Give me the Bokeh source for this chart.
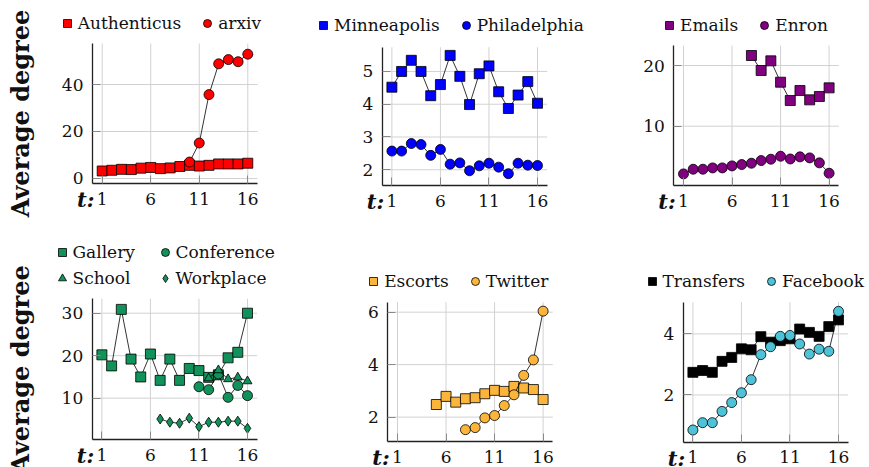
from bokeh.plotting import figure
from bokeh.layouts import column, row
from bokeh.models import Range1d, FixedTicker, Legend, LegendItem, Label
from bokeh.embed import file_html
from bokeh.resources import INLINE

# time steps
t = list(range(1, 17))

# top row
authenticus = [3.2, 3.5, 3.9, 3.8, 4.4, 4.7, 4.2, 4.5, 5.1, 5.6, 5.3, 5.6, 6.2, 6.2, 6.2, 6.5]
arxiv_t = [10, 11, 12, 13, 14, 15, 16]
arxiv = [7.0, 15.1, 35.7, 48.8, 50.6, 49.7, 52.9]

minneapolis = [4.52, 5.0, 5.34, 5.0, 4.26, 4.6, 5.49, 4.85, 3.99, 4.93, 5.17, 4.38, 3.87, 4.28, 4.69, 4.03]
philadelphia = [2.57, 2.57, 2.8, 2.77, 2.44, 2.62, 2.17, 2.21, 1.97, 2.12, 2.2, 2.08, 1.88, 2.2, 2.14, 2.13]

emails_t = [8, 9, 10, 11, 12, 13, 14, 15, 16]
emails = [21.65, 19.18, 20.77, 17.25, 14.23, 15.88, 14.34, 14.9, 16.32]
enron = [2.14, 2.91, 2.91, 3.13, 3.13, 3.46, 3.68, 3.9, 4.34, 4.56, 5.05, 4.6, 4.95, 4.78, 3.96, 2.25]

# bottom row
gallery = [20.2, 17.6, 30.9, 19.2, 15.0, 20.4, 14.2, 19.2, 14.2, 17.0, 16.5, 14.9, 15.5, 19.5, 20.8, 30.0]
conference_t = [11, 12, 13, 14, 15, 16]
conference = [12.7, 12.0, 15.7, 10.2, 13.0, 10.6]
school_t = [12, 13, 14, 15, 16]
school = [14.7, 16.6, 14.5, 14.9, 14.0]
workplace_t = [7, 8, 9, 10, 11, 12, 13, 14, 15, 16]
workplace = [5.1, 4.35, 4.1, 5.3, 3.3, 4.35, 4.35, 4.6, 4.6, 2.9]

escorts_t = [5, 6, 7, 8, 9, 10, 11, 12, 13, 14, 15, 16]
escorts = [2.48, 2.79, 2.57, 2.70, 2.74, 2.89, 3.02, 2.98, 3.17, 3.11, 3.05, 2.67]
twitter_t = [8, 9, 10, 11, 12, 13, 14, 15, 16]
twitter = [1.52, 1.6, 1.97, 2.06, 2.44, 2.85, 3.59, 4.18, 6.04]

transfers = [2.74, 2.8, 2.74, 3.1, 3.23, 3.51, 3.48, 3.91, 3.73, 3.78, 3.84, 4.16, 4.05, 3.92, 4.24, 4.46]
facebook = [0.85, 1.09, 1.09, 1.46, 1.75, 2.07, 2.5, 3.32, 3.58, 3.92, 3.95, 3.67, 3.34, 3.5, 3.43, 4.74]

x_ticks = [1, 6, 11, 16]
X_LO, X_HI = 0, 17

RED = "#ff0000"
BLUE = "#0000ff"
PURPLE = "#800080"
GREEN = "#11925a"
ORANGE = "#fbb53a"
CYAN = "#4ec3d8"
BLACK = "#000000"

SERIF = "DejaVu Serif"


def panel(cell, box, ylim, yticks, ylabel=None):
    """cell: (x, y, w, h) of the figure on the page; box: (left, right, top, bottom)
    page pixels of the axes box; ylim: values at the bottom/top of that box."""
    cx, cy, W, H = cell
    left, right, top, bottom = box
    ylo, yhi = ylim
    kx = (right - left) / (X_HI - X_LO)
    ky = (bottom - top) / (yhi - ylo)
    xs = X_LO - (left - cx) / kx
    ye = yhi + (top - cy) / ky
    p = figure(frame_width=W, frame_height=H,
               x_range=Range1d(xs, xs + W / kx), y_range=Range1d(ye - H / ky, ye),
               output_backend="svg", toolbar_location=None, min_border=0)
    p.outline_line_color = None
    p.grid.visible = False
    p.xaxis.ticker = FixedTicker(ticks=x_ticks)
    p.yaxis.ticker = FixedTicker(ticks=yticks)
    p.xaxis.fixed_location = ylo
    p.yaxis.fixed_location = X_LO
    p.xaxis.bounds = (X_LO, X_HI)
    p.yaxis.bounds = (ylo, yhi)
    for ax in (p.xaxis[0], p.yaxis[0]):
        ax.axis_line_color = "#222222"
        ax.axis_line_width = 1.3
        ax.major_tick_in = 8
        ax.major_tick_out = 0
        ax.major_tick_line_color = "#8a8a8a"
        ax.minor_tick_line_color = None
        ax.major_label_text_font = SERIF
        ax.major_label_text_font_size = "17px"
        ax.major_label_text_color = "#111111"
    p.xaxis.major_label_standoff = 9
    p.yaxis.major_label_standoff = 9
    if ylabel:
        p.yaxis.axis_label = ylabel
        p.yaxis.axis_label_text_font = SERIF
        p.yaxis.axis_label_text_font_style = "bold"
        p.yaxis.axis_label_text_font_size = "24px"
        p.yaxis.axis_label_text_color = "#111111"
        p.yaxis.axis_label_standoff = 24
    # light grid inside the axes box
    p.segment(x0=x_ticks, y0=[ylo] * len(x_ticks), x1=x_ticks, y1=[yhi] * len(x_ticks),
              line_color="#d2d2d2", line_width=1)
    p.segment(x0=[X_LO] * len(yticks), y0=yticks, x1=[X_HI] * len(yticks), y1=yticks,
              line_color="#d2d2d2", line_width=1)
    # bold italic "t:" in front of the time-step labels
    p.add_layout(Label(x=X_LO + 2 / kx, y=ylo - 16 / ky, text="t:",
                       text_align="right", text_baseline="middle",
                       text_font=SERIF, text_font_style="bold italic",
                       text_font_size="21px", text_color="#111111"))
    p._cell = cell
    return p


def series(p, xs, ys, marker, color, size):
    p.line(xs, ys, line_color="#000000", line_width=0.8)
    return p.scatter(xs, ys, marker=marker, size=size, fill_color=color,
                     line_color="#000000", line_width=0.8)


def legend(p, entries, left, bottom, label_width=None):
    cx, cy, W, H = p._cell
    kw = {}
    if label_width:
        kw["label_width"] = label_width
    leg = Legend(items=[LegendItem(label=n, renderers=[r]) for n, r in entries],
                 orientation="horizontal", location=(left - cx, H - (bottom - cy)),
                 padding=0, margin=0, spacing=16, label_standoff=1,
                 glyph_width=20, glyph_height=20, label_height=20,
                 background_fill_alpha=0, border_line_alpha=0,
                 label_text_font=SERIF, label_text_font_size="17px",
                 label_text_color="#111111", **kw)
    p.add_layout(leg, "center")


# Authenticus / arxiv
p1 = panel((0, 0, 290, 233), (92, 257, 43, 183), (-2.13, 57.45), [0, 20, 40], "Average degree")
r_a = series(p1, t, authenticus, "square", RED, 10)
r_b = series(p1, arxiv_t, arxiv, "circle", RED, 10)
legend(p1, [("Authenticus", r_a), ("arxiv", r_b)], 56.7, 33)

# Minneapolis / Philadelphia
p2 = panel((290, 0, 310, 233), (381.7, 546.7, 46.7, 185), (1.52, 5.74), [2, 3, 4, 5])
r_a = series(p2, t, minneapolis, "square", BLUE, 10)
r_b = series(p2, t, philadelphia, "circle", BLUE, 10)
legend(p2, [("Minneapolis", r_a), ("Philadelphia", r_b)], 313, 35)

# Emails / Enron
p3 = panel((600, 0, 269, 233), (673.3, 838.3, 45, 185), (0.23, 23.3), [10, 20])
r_a = series(p3, emails_t, emails, "square", PURPLE, 10)
r_b = series(p3, t, enron, "circle", PURPLE, 10)
legend(p3, [("Emails", r_a), ("Enron", r_b)], 659, 35)

# Gallery / Conference / School / Workplace
p4 = panel((0, 233, 290, 234), (91.7, 256.7, 298.3, 439.3), (0.21, 33.39), [10, 20, 30], "Average degree")
r_g = series(p4, t, gallery, "square", GREEN, 10)
r_c = series(p4, conference_t, conference, "circle", GREEN, 10)
r_s = series(p4, school_t, school, "triangle", GREEN, 9)
r_w = series(p4, workplace_t, workplace, "diamond", GREEN, 10)
legend(p4, [("Gallery", r_g), ("Conference", r_c)], 51.5, 261.5, label_width=66)
legend(p4, [("School", r_s), ("Workplace", r_w)], 51.5, 288, label_width=66)

# Escorts / Twitter
p5 = panel((290, 233, 300, 234), (387.3, 552.3, 301.7, 441), (1.07, 6.38), [2, 4, 6])
r_a = series(p5, escorts_t, escorts, "square", ORANGE, 10)
r_b = series(p5, twitter_t, twitter, "circle", ORANGE, 10)
legend(p5, [("Escorts", r_a), ("Twitter", r_b)], 363.2, 291)

# Transfers / Facebook
p6 = panel((590, 233, 279, 234), (682.7, 847.7, 301.7, 441.7), (0.45, 5.04), [2, 4])
r_a = series(p6, t, transfers, "square", BLACK, 10)
r_b = series(p6, t, facebook, "circle", CYAN, 10)
legend(p6, [("Transfers", r_a), ("Facebook", r_b)], 641.5, 291)

layout = column(row(p1, p2, p3, spacing=0), row(p4, p5, p6, spacing=0), spacing=0)

open("out.html", "w").write(file_html(layout, INLINE))
